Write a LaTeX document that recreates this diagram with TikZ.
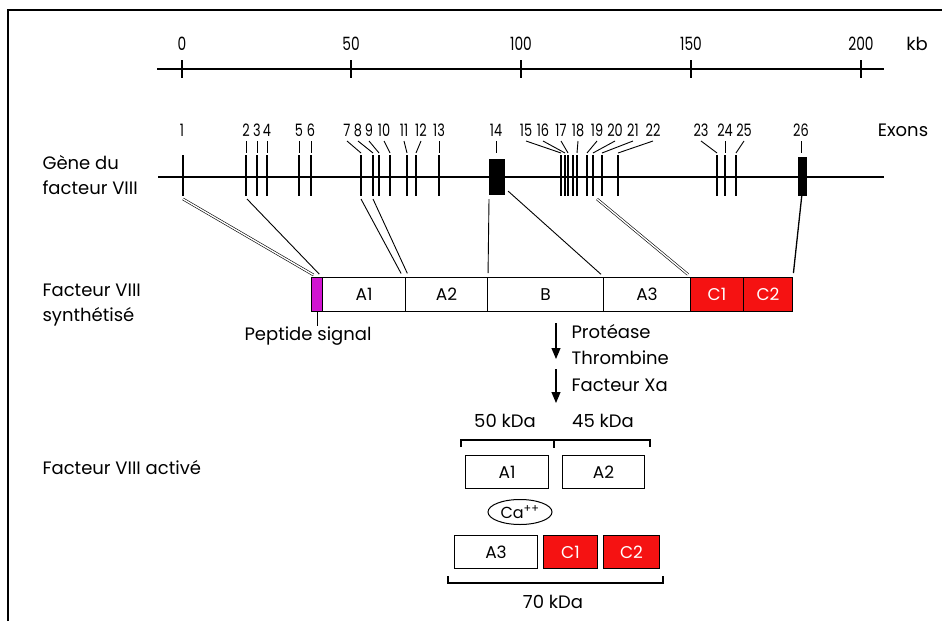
\documentclass[tikz,border=0pt]{standalone}
\usepackage{fontspec}
\setmainfont{Poppins}
\usetikzlibrary{arrows.meta,shapes.geometric}
\definecolor{cred}{RGB}{245,18,18}
\definecolor{cpink}{RGB}{210,20,210}
\newcommand\talltxt[1]{\scalebox{0.92}[1.22]{#1}}
\begin{document}
\begin{tikzpicture}[x=1pt,y=-1pt,line width=1.1pt,
  lbl/.style={font=\fontsize{18}{25}\selectfont, inner sep=0pt, align=left},
  num/.style={font=\fontsize{15}{17}\selectfont, inner sep=0pt},
  exn/.style={font=\fontsize{14}{16}\selectfont, inner sep=0pt},
  seg/.style={draw, line width=1pt, minimum height=34pt, inner sep=0pt, anchor=north west, font=\fontsize{17}{19}\selectfont},
  box/.style={draw, line width=1pt, minimum height=33pt, inner sep=0pt, anchor=north west, font=\fontsize{17}{19}\selectfont},
  redseg/.style={fill=cred, text=white},
  dbl/.style={double, double distance=1.4pt, line width=0.6pt},
  thin/.style={line width=0.9pt},
  arr/.style={line width=1.1pt, -{Triangle[width=9pt,length=11pt]}}]
\useasboundingbox (0,0) rectangle (942,621);
\draw[line width=2.2pt] (8,621) -- (8,10) -- (942,10);

% scale
\draw[line width=1.2pt] (157,69) -- (884,69);
\foreach \k/\x in {0/182,50/351,100/521,150/691,200/861}{
  \draw (\x,60) -- (\x,78);
  \node[num] (s\k) at (\x,44) {\talltxt{\k}};
}
\node[lbl] (kb) at (917,44) {kb};

% gene
\node[lbl, anchor=west] (gene) at (42,175) {Gène du\\facteur VIII};
\draw[line width=1.2pt] (158,177) -- (884,177);
\foreach \x in {183,246,257,267,299,311,361,373,379,390,407,416,439,561,565,568,573,577,587,593,602,618,717,725,736}{
  \draw (\x,155) -- (\x,196);
}
\node[fill=black, minimum width=16pt, minimum height=36pt, inner sep=0pt, anchor=north west] (ex14) at (488,158) {};
\node[fill=black, minimum width=9pt, minimum height=39pt, inner sep=0pt, anchor=north west] (ex26) at (797,156) {};

% exon labels with leaders
\node[exn] (e1) at (182,130) {\talltxt{1}};
\foreach \n/\lx/\tx in {2/246/246,3/257/257,4/267/267,5/299/299,6/311/311,
  7/347/361,8/358/373,9/369/379,10/384/390,11/404/407,12/421/416,13/439/439,14/496/496,
  15/526/561,16/543/565,17/561/568,18/578/577,19/597/587,20/615/593,21/633/602,22/653/618,
  23/701/717,24/725/725,25/744/736,26/801/801}{
  \node[exn] (e\n) at (\lx,130) {\talltxt{\n}};
  \draw[thin] (\lx,141) -- (\tx,153);
}
\node[lbl] (exons) at (903,130) {Exons};

% protein
\node[lbl, anchor=west] (synth) at (42,305) {Facteur VIII\\synthétisé};
\node[seg, fill=cpink, minimum width=11pt] (pep) at (311,277) {};
\node[seg, minimum width=83pt] (A1) at (322,277) {A1};
\node[seg, minimum width=82pt] (A2) at (405,277) {A2};
\node[seg, minimum width=116pt] (B) at (487,277) {B};
\node[seg, minimum width=87pt] (A3) at (603,277) {A3};
\node[seg, redseg, minimum width=53pt] (C1) at (690,277) {C1};
\node[seg, redseg, minimum width=49pt] (C2) at (743,277) {C2};
\draw[thin] (pep.south) -- ++(0,14) coordinate (pepend);
\node[lbl] (peplbl) at (308,336) {Peptide signal};

% gene to protein connectors
\draw[dbl, shorten >=4pt] (183,199) -- (pep.north);
\draw[thin, shorten >=4pt] (247,199) -- (A1.north west);
\draw[thin, shorten >=4pt] (361,199) -- ([xshift=-3pt]A1.north east);
\draw[thin, shorten >=4pt] (373,199) -- ([xshift=3pt]A1.north east);
\draw[thin, shorten >=4pt] (ex14.south west) ++(1,4) -- (A2.north east);
\draw[thin, shorten >=4pt] ([xshift=3pt,yshift=4pt]ex14.south east) -- (B.north east);
\draw[dbl, shorten >=4pt] (597,199) -- (A3.north east);
\draw[line width=1.3pt, shorten >=4pt] ([yshift=3pt]ex26.south) -- (C2.north east);

% activation arrows
\coordinate (a1s) at (556,323);
\coordinate (a1e) at (556,359);
\coordinate (a2s) at (556,369);
\coordinate (a2e) at (556,403);
\draw[arr] (a1s) -- (a1e);
\draw[arr] (a2s) -- (a2e);
\node[lbl, anchor=west] (prot) at (571,332) {Protéase};
\node[lbl, anchor=west] (thr) at (571,358) {Thrombine};
\node[lbl, anchor=west] (fxa) at (571,385) {Facteur Xa};

% activated factor
\node[lbl, anchor=west] (act) at (42,468) {Facteur VIII activé};
\node[lbl] (k50) at (505,421) {50 kDa};
\node[lbl] (k45) at (603,421) {45 kDa};
\draw (461,447) -- (461,440) -- (650,440) -- (650,447);
\draw[line width=2.2pt] (554,440) -- (554,448);
\node[box, minimum width=83pt] (bA1) at (465,455) {A1};
\node[box, minimum width=82pt] (bA2) at (562,455) {A2};
\node[draw, ellipse, line width=1pt, minimum width=64pt, minimum height=25pt, inner sep=0pt, font=\fontsize{16}{18}\selectfont] (ca) at (520,512) {Ca\textsuperscript{++}};
\node[box, minimum width=83pt] (bA3) at (454,535) {A3};
\node[box, redseg, minimum width=54pt] (bC1) at (543,535) {C1};
\node[box, redseg, minimum width=56pt] (bC2) at (603,535) {C2};
\draw (448,576) -- (448,583) -- (663,583) -- (663,576);
\node[lbl] (k70) at (553,602) {70 kDa};
\end{tikzpicture}
\end{document}
